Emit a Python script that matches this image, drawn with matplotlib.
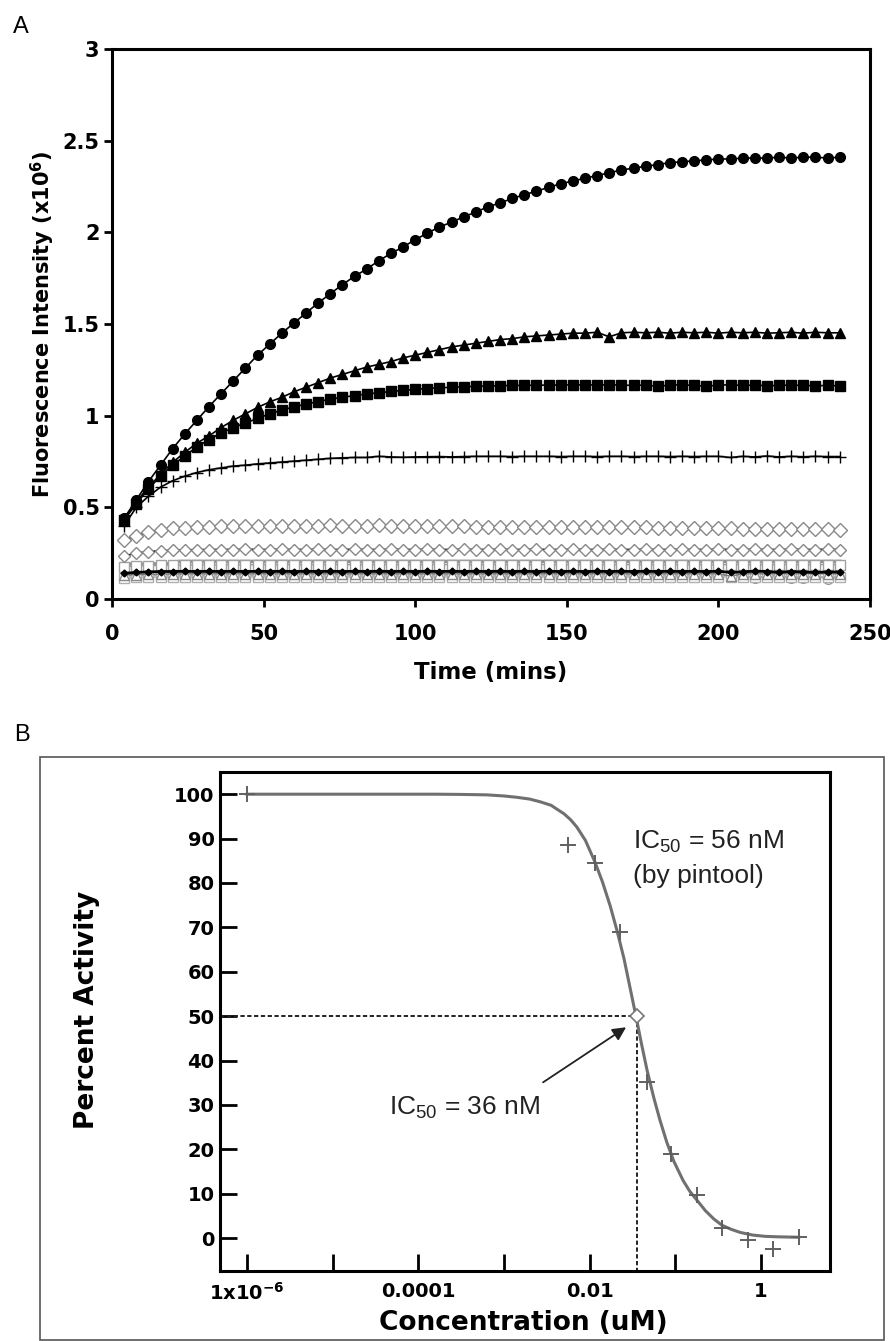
import matplotlib
matplotlib.use('Agg')
import matplotlib.pyplot as plt
import numpy as np
from matplotlib.patches import Rectangle

plt.rcParams['mathtext.fontset'] = 'custom'
plt.rcParams['mathtext.rm'] = 'Liberation Sans'
plt.rcParams['mathtext.it'] = 'Liberation Sans:italic'
plt.rcParams['mathtext.bf'] = 'DejaVu Sans:bold'
plt.rcParams['font.family'] = ['Liberation Sans', 'DejaVu Sans']
BOLDFAM = ['DejaVu Sans']

# ---------------- Panel A data ----------------
time_min = np.arange(4, 241, 4)

circles_filled = [0.44, 0.54, 0.64, 0.73, 0.82, 0.90, 0.975, 1.05, 1.12, 1.19,
                  1.26, 1.33, 1.39, 1.45, 1.505, 1.56, 1.615, 1.665, 1.715, 1.76,
                  1.80, 1.845, 1.885, 1.92, 1.96, 1.995, 2.03, 2.055, 2.085, 2.11,
                  2.14, 2.16, 2.185, 2.205, 2.225, 2.245, 2.265, 2.28, 2.295, 2.31,
                  2.325, 2.34, 2.35, 2.36, 2.37, 2.38, 2.385, 2.39, 2.395, 2.40,
                  2.40, 2.405, 2.405, 2.405, 2.41, 2.405, 2.41, 2.41, 2.405, 2.41]

triangles_filled = [0.44, 0.53, 0.61, 0.68, 0.745, 0.80, 0.85, 0.89, 0.935, 0.975,
                    1.01, 1.045, 1.075, 1.10, 1.13, 1.155, 1.18, 1.205, 1.225, 1.245,
                    1.265, 1.28, 1.295, 1.315, 1.33, 1.345, 1.36, 1.375, 1.385, 1.395,
                    1.405, 1.415, 1.42, 1.43, 1.435, 1.44, 1.445, 1.45, 1.45, 1.455,
                    1.43, 1.452, 1.455, 1.452, 1.455, 1.45, 1.455, 1.452, 1.455, 1.45,
                    1.455, 1.452, 1.455, 1.45, 1.452, 1.455, 1.45, 1.455, 1.452, 1.452]

squares_filled = [0.43, 0.52, 0.60, 0.67, 0.73, 0.78, 0.83, 0.87, 0.905, 0.935,
                  0.96, 0.985, 1.01, 1.03, 1.048, 1.063, 1.077, 1.09, 1.10, 1.11,
                  1.118, 1.125, 1.132, 1.138, 1.143, 1.148, 1.152, 1.155, 1.158, 1.16,
                  1.162, 1.163, 1.165, 1.165, 1.167, 1.166, 1.168, 1.167, 1.168, 1.167,
                  1.168, 1.167, 1.165, 1.167, 1.16, 1.167, 1.168, 1.165, 1.16, 1.167,
                  1.168, 1.165, 1.167, 1.163, 1.165, 1.167, 1.165, 1.163, 1.165, 1.162]

plus_series = [0.40, 0.50, 0.56, 0.61, 0.645, 0.67, 0.69, 0.705, 0.715, 0.725,
               0.73, 0.737, 0.742, 0.747, 0.752, 0.757, 0.762, 0.767, 0.77, 0.772,
               0.772, 0.778, 0.775, 0.773, 0.775, 0.776, 0.777, 0.775, 0.777, 0.778,
               0.778, 0.778, 0.777, 0.778, 0.778, 0.778, 0.777, 0.778, 0.778, 0.777,
               0.778, 0.778, 0.777, 0.778, 0.778, 0.777, 0.778, 0.777, 0.778, 0.778,
               0.772, 0.778, 0.775, 0.780, 0.775, 0.778, 0.776, 0.778, 0.777, 0.777]

diamonds_upper = [0.32, 0.345, 0.365, 0.378, 0.386, 0.39, 0.393, 0.395, 0.396, 0.397,
                  0.397, 0.398, 0.398, 0.398, 0.398, 0.398, 0.40, 0.405, 0.40, 0.398,
                  0.398, 0.405, 0.40, 0.397, 0.397, 0.397, 0.396, 0.396, 0.396, 0.395,
                  0.395, 0.395, 0.394, 0.394, 0.394, 0.394, 0.393, 0.393, 0.393, 0.393,
                  0.392, 0.392, 0.391, 0.391, 0.39, 0.389, 0.388, 0.387, 0.386, 0.385,
                  0.385, 0.384, 0.384, 0.383, 0.383, 0.382, 0.382, 0.381, 0.38, 0.378]

diamonds_lower = [0.235, 0.25, 0.258, 0.263, 0.266, 0.268, 0.269, 0.27, 0.27, 0.27,
                  0.271, 0.27, 0.27, 0.271, 0.27, 0.27, 0.271, 0.27, 0.27, 0.271,
                  0.27, 0.27, 0.271, 0.27, 0.27, 0.271, 0.27, 0.27, 0.271, 0.27,
                  0.27, 0.271, 0.27, 0.27, 0.271, 0.27, 0.27, 0.271, 0.27, 0.27,
                  0.271, 0.27, 0.27, 0.271, 0.27, 0.27, 0.271, 0.27, 0.27, 0.271,
                  0.27, 0.27, 0.271, 0.27, 0.27, 0.271, 0.27, 0.27, 0.271, 0.27]

gray_line_t = [4, 20, 22, 240]
gray_line_v = [0.19, 0.192, 0.205, 0.205]

squares_open_a = [0.175, 0.18, 0.182, 0.183, 0.185, 0.185, 0.186, 0.185, 0.186, 0.187,
                  0.186, 0.187, 0.186, 0.187, 0.188, 0.187, 0.186, 0.187, 0.188, 0.187,
                  0.186, 0.187, 0.188, 0.187, 0.186, 0.187, 0.188, 0.187, 0.186, 0.187,
                  0.188, 0.187, 0.186, 0.187, 0.188, 0.187, 0.186, 0.187, 0.188, 0.187,
                  0.186, 0.187, 0.188, 0.187, 0.186, 0.187, 0.188, 0.187, 0.186, 0.187,
                  0.188, 0.187, 0.186, 0.187, 0.188, 0.187, 0.186, 0.187, 0.188, 0.187]

black_diamonds = [0.14, 0.145, 0.148, 0.15, 0.15, 0.151, 0.15, 0.151, 0.15, 0.151,
                  0.15, 0.151, 0.15, 0.151, 0.15, 0.151, 0.15, 0.151, 0.15, 0.151,
                  0.15, 0.151, 0.15, 0.151, 0.15, 0.151, 0.15, 0.151, 0.15, 0.151,
                  0.15, 0.151, 0.15, 0.151, 0.15, 0.151, 0.15, 0.151, 0.15, 0.151,
                  0.15, 0.151, 0.15, 0.151, 0.15, 0.151, 0.15, 0.151, 0.15, 0.151,
                  0.145, 0.148, 0.152, 0.15, 0.146, 0.15, 0.148, 0.145, 0.148, 0.147]

triangles_open = [0.13, 0.133, 0.135, 0.136, 0.137, 0.137, 0.138, 0.137, 0.138, 0.137,
                  0.138, 0.137, 0.138, 0.137, 0.138, 0.137, 0.138, 0.137, 0.138, 0.137,
                  0.138, 0.137, 0.138, 0.137, 0.138, 0.137, 0.138, 0.137, 0.138, 0.137,
                  0.138, 0.137, 0.138, 0.137, 0.138, 0.137, 0.138, 0.137, 0.138, 0.137,
                  0.138, 0.137, 0.138, 0.137, 0.138, 0.137, 0.138, 0.137, 0.138, 0.137,
                  0.125, 0.137, 0.138, 0.137, 0.138, 0.137, 0.138, 0.137, 0.138, 0.137]

squares_open_b = [0.115, 0.118, 0.119, 0.12, 0.12, 0.121, 0.12, 0.121, 0.12, 0.121,
                  0.12, 0.121, 0.12, 0.121, 0.12, 0.121, 0.12, 0.121, 0.12, 0.121,
                  0.12, 0.121, 0.12, 0.121, 0.12, 0.121, 0.12, 0.121, 0.12, 0.121,
                  0.12, 0.121, 0.12, 0.121, 0.12, 0.121, 0.12, 0.121, 0.12, 0.121,
                  0.12, 0.121, 0.12, 0.121, 0.12, 0.121, 0.12, 0.121, 0.12, 0.121,
                  0.12, 0.121, 0.12, 0.121, 0.12, 0.121, 0.12, 0.121, 0.12, 0.121]

circles_open = [0.125, 0.128, 0.13, 0.13, 0.131, 0.13, 0.131, 0.13, 0.131, 0.13,
                0.131, 0.13, 0.131, 0.13, 0.131, 0.13, 0.131, 0.13, 0.131, 0.13,
                0.131, 0.13, 0.131, 0.13, 0.131, 0.13, 0.131, 0.13, 0.131, 0.13,
                0.131, 0.13, 0.131, 0.13, 0.131, 0.13, 0.131, 0.13, 0.131, 0.13,
                0.131, 0.13, 0.131, 0.13, 0.131, 0.13, 0.131, 0.13, 0.131, 0.13,
                0.131, 0.13, 0.112, 0.125, 0.13, 0.115, 0.112, 0.125, 0.11, 0.12]

xticks_A = [0, 50, 100, 150, 200, 250]
yticks_A = [0, 0.5, 1, 1.5, 2, 2.5, 3]
yticklabels_A = ['0', '0.5', '1', '1.5', '2', '2.5', '3']

# ---------------- Panel B data ----------------
conc_points = [1e-6, 0.005623, 0.01148, 0.0224, 0.04677, 0.08913, 0.1778,
               0.3508, 0.7079, 1.380, 2.754]
activity_points = [100, 88.5, 84.5, 69.0, 35.1, 18.9, 9.7, 2.3, -0.45, -2.5, 0.2]

fit_log_conc = [-6.0, -3.8, -3.5, -3.2, -3.0, -2.85, -2.7, -2.58, -2.45, -2.38,
                -2.3, -2.22, -2.15, -2.05, -1.94, -1.85, -1.76, -1.68, -1.60, -1.53,
                -1.46, -1.40, -1.33, -1.25, -1.18, -1.10, -1.02, -0.91, -0.83, -0.75,
                -0.65, -0.55, -0.455, -0.35, -0.245, -0.1, 0.05, 0.2, 0.44]
fit_activity = [100, 100, 99.95, 99.85, 99.6, 99.3, 98.9, 98.3, 97.5, 96.6,
                95.6, 94.2, 92.6, 89.6, 84.8, 80.2, 74.8, 69.2, 63.0, 56.5,
                50.0, 44.2, 37.8, 31.5, 26.6, 21.6, 17.4, 13.0, 10.5, 8.6,
                6.2, 4.3, 2.9, 2.0, 1.3, 0.7, 0.4, 0.3, 0.2]

ic50_conc = 0.0357
ic50_activity = 50

xticks_B = [1e-6, 1e-4, 1e-2, 1]
xticklabels_B = [r'1x10$^{\mathbf{-6}}$', '0.0001', '0.01', '1']
xminor_B = [1e-5, 1e-3, 1e-1]
yticks_B = [0, 10, 20, 30, 40, 50, 60, 70, 80, 90, 100]

# ---------------- Figure ----------------
W, H = 890, 1341
fig = plt.figure(figsize=(W / 100, H / 100), dpi=100)

# ----- Panel A -----
axA = fig.add_axes([112 / W, 1 - 599 / H, 758 / W, 550 / H])
axA.set_xlim(0, 250)
axA.set_ylim(0, 3)

axA.plot(gray_line_t, gray_line_v, color='#8c8c8c', lw=2.5, zorder=2)
axA.plot(time_min, squares_open_a, color='#9a9a9a', lw=1, marker='s', ms=7,
         mfc='white', mec='#a0a0a0', mew=1, zorder=2)
axA.plot(time_min, circles_open, color='#999999', lw=1, marker='o', ms=7,
         mfc='white', mec='#999999', mew=1, zorder=2)
axA.plot(time_min, squares_open_b, color='#aaaaaa', lw=1, marker='s', ms=7,
         mfc='white', mec='#b0b0b0', mew=1, zorder=2)
axA.plot(time_min, triangles_open, color='#777777', lw=1, marker='^', ms=7,
         mfc='white', mec='#888888', mew=1, zorder=2)
axA.plot(time_min, black_diamonds, color='black', lw=2, marker='D', ms=3.5,
         mfc='black', mec='black', zorder=3)
axA.plot(time_min, diamonds_lower, color='black', lw=1.2, marker='D', ms=6.5,
         mfc='white', mec='#888888', mew=1, zorder=3)
axA.plot(time_min, diamonds_upper, color='black', lw=1.2, marker='D', ms=7,
         mfc='white', mec='#888888', mew=1, zorder=3)
axA.plot(time_min, plus_series, color='black', lw=1.2, marker='+', ms=8,
         mew=1, zorder=4)
axA.plot(time_min, squares_filled, color='black', lw=1.2, marker='s', ms=6.5,
         mfc='black', zorder=5)
axA.plot(time_min, triangles_filled, color='black', lw=1.2, marker='^', ms=7,
         mfc='black', zorder=5)
axA.plot(time_min, circles_filled, color='black', lw=1.2, marker='o', ms=7,
         mfc='black', zorder=6)

for sp in axA.spines.values():
    sp.set_linewidth(2.2)
axA.set_xticks(xticks_A)
axA.set_yticks(yticks_A)
axA.set_yticklabels(yticklabels_A)
axA.tick_params(direction='out', length=6, width=2, labelsize=15)
axA.tick_params(axis='x', pad=12)
axA.tick_params(axis='y', pad=3)
for lab in axA.get_xticklabels() + axA.get_yticklabels():
    lab.set_fontweight('bold')
    lab.set_family(BOLDFAM)
axA.set_xlabel('Time (mins)', fontsize=16.5, fontweight='bold', family=BOLDFAM)
axA.xaxis.set_label_coords(0.5, -0.112)
axA.set_ylabel(r'Fluorescence Intensity (x10$^{\mathbf{6}}$)', fontsize=15,
               fontweight='bold', family=BOLDFAM)
axA.yaxis.set_label_coords(-0.072, 0.5)

fig.text(13 / W, 1 - 27 / H, 'A', fontsize=17, va='center', ha='left')
fig.text(14 / W, 1 - 735 / H, 'B', fontsize=17, va='center', ha='left')

# ----- Panel B frame -----
fig.add_artist(Rectangle((40 / W, 1 - 1340 / H), 844 / W, (1340 - 757) / H,
                         transform=fig.transFigure, fill=False,
                         ec='#555555', lw=1.2))

# ----- Panel B -----
axB = fig.add_axes([220 / W, 1 - 1271 / H, 610 / W, 499 / H])
axB.set_xscale('log')
axB.set_xlim(10 ** -6.315, 10 ** 0.805)
axB.set_ylim(-7.4, 105)

xl = axB.get_xlim()
yl = axB.get_ylim()
axB.plot([xl[0], ic50_conc], [ic50_activity, ic50_activity], color='#222222',
         lw=1.4, ls=(0, (2.2, 1.3)), zorder=2)
axB.plot([ic50_conc, ic50_conc], [ic50_activity, yl[0]], color='#222222',
         lw=1.4, ls=(0, (2.2, 1.3)), zorder=2)

axB.plot(10 ** np.array(fit_log_conc), fit_activity, color='#707070', lw=2.2,
         zorder=3)
axB.plot(conc_points, activity_points, ls='none', marker='+', ms=11, mew=1.4,
         color='#606060', zorder=4)
axB.plot([ic50_conc], [ic50_activity], ls='none', marker='D', ms=7, mfc='white',
         mec='#777777', mew=1.2, zorder=5)

axB.text(10 ** -1.494, 89.2, r'IC$_{\mathrm{50}}$ = 56 nM', fontsize=19,
         va='center', ha='left', color='#222222')
axB.text(10 ** -1.494, 81.5, '(by pintool)', fontsize=19, va='center',
         ha='left', color='#222222')
axB.text(10 ** -4.34, 29.3, r'IC$_{\mathrm{50}}$ = 36 nM', fontsize=19,
         va='center', ha='left', color='#222222')
axB.annotate('', xy=(10 ** -1.575, 47.5), xytext=(10 ** -2.544, 35.1),
             arrowprops=dict(arrowstyle='-|>', color='#222222', lw=1.3,
                             mutation_scale=20, shrinkA=0, shrinkB=0))

for sp in axB.spines.values():
    sp.set_linewidth(2.2)
axB.set_xticks(xticks_B)
axB.set_xticklabels(xticklabels_B)
axB.set_xticks(xminor_B, minor=True)
axB.set_xticklabels([], minor=True)
axB.set_yticks(yticks_B)
axB.tick_params(axis='both', which='both', direction='in', length=12, width=2,
                labelsize=14)
axB.tick_params(axis='x', which='both', pad=8)
axB.tick_params(axis='y', pad=4)
for lab in axB.get_xticklabels() + axB.get_yticklabels():
    lab.set_fontweight('bold')
    lab.set_family(BOLDFAM)
axB.set_xlabel('Concentration (uM)', fontsize=19, fontweight='bold',
               family=BOLDFAM)
axB.xaxis.set_label_coords(0.497, -0.078)
axB.set_ylabel('Percent Activity', fontsize=19, fontweight='bold',
               family=BOLDFAM)
axB.yaxis.set_label_coords(-0.197, 0.523)

fig.savefig('out.png', dpi=100)
